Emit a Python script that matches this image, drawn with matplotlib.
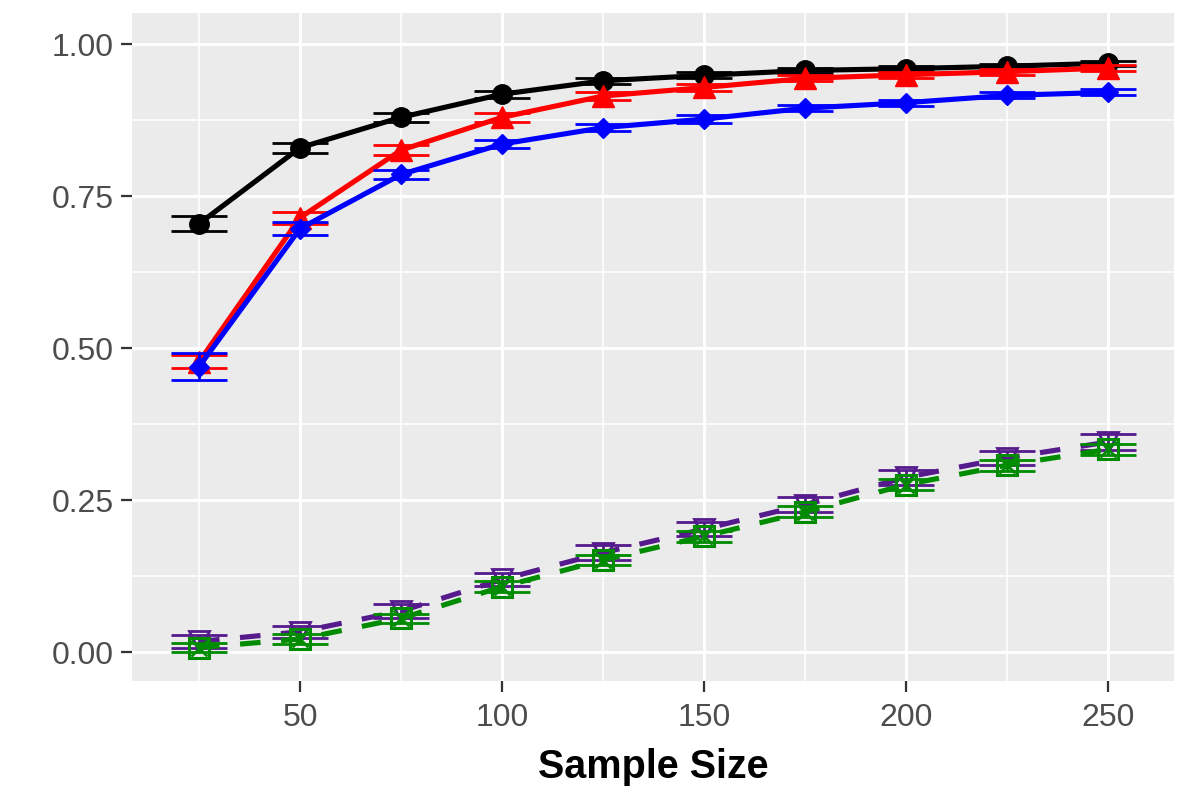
import matplotlib
matplotlib.use("Agg")
import matplotlib.pyplot as plt
from matplotlib.ticker import FixedLocator

plt.rcParams['font.family'] = ['Liberation Sans', 'DejaVu Sans']

# ---- data ----
sample_size = [25, 50, 75, 100, 125, 150, 175, 200, 225, 250]

black_vals = [0.705, 0.830, 0.880, 0.918, 0.940, 0.949, 0.957, 0.960, 0.964, 0.969]
black_err = [0.012, 0.008, 0.007, 0.006, 0.005, 0.005, 0.004, 0.004, 0.004, 0.004]

red_vals = [0.478, 0.715, 0.826, 0.880, 0.915, 0.929, 0.944, 0.950, 0.955, 0.961]
red_err = [0.011, 0.010, 0.008, 0.007, 0.006, 0.005, 0.005, 0.005, 0.005, 0.005]

blue_vals = [0.470, 0.697, 0.786, 0.836, 0.863, 0.877, 0.895, 0.904, 0.916, 0.921]
blue_err = [0.022, 0.011, 0.008, 0.007, 0.006, 0.006, 0.005, 0.005, 0.005, 0.005]

purple_vals = [0.018, 0.034, 0.068, 0.120, 0.164, 0.203, 0.243, 0.288, 0.320, 0.346]
purple_err = [0.010, 0.010, 0.011, 0.011, 0.012, 0.012, 0.012, 0.012, 0.012, 0.013]

green_vals = [0.008, 0.022, 0.056, 0.108, 0.152, 0.191, 0.231, 0.276, 0.308, 0.334]
green_err = [0.007, 0.008, 0.008, 0.009, 0.009, 0.009, 0.009, 0.009, 0.009, 0.009]

x_ticks = [50, 100, 150, 200, 250]
y_ticks = [0.00, 0.25, 0.50, 0.75, 1.00]
y_tick_labels = ["0.00", "0.25", "0.50", "0.75", "1.00"]

# ---- figure ----
fig = plt.figure(figsize=(11.96, 7.97), dpi=100)
ax = fig.add_axes([132 / 1196, 1 - 681 / 797, (1174 - 132) / 1196, (681 - 13) / 797])
ax.set_facecolor('#EBEBEB')
for s in ax.spines.values():
    s.set_visible(False)

ax.set_xlim(8.4, 266.3)
ax.set_ylim(-0.047, 1.0515)

ax.xaxis.set_major_locator(FixedLocator(x_ticks))
ax.xaxis.set_minor_locator(FixedLocator([25, 75, 125, 175, 225]))
ax.yaxis.set_major_locator(FixedLocator(y_ticks))
ax.yaxis.set_minor_locator(FixedLocator([0.125, 0.375, 0.625, 0.875]))
ax.set_yticklabels(y_tick_labels)

ax.grid(which='major', color='white', linewidth=2.2)
ax.grid(which='minor', color='white', linewidth=1.1)
ax.set_axisbelow(True)
ax.tick_params(which='major', length=8, width=1.6, color='#333333',
               labelsize=23, labelcolor='#4D4D4D', pad=5)
ax.tick_params(axis='x', which='major', pad=8)
ax.tick_params(which='minor', length=0)

ax.set_xlabel("Sample Size", fontsize=28.5, fontweight='bold', color='black', labelpad=11)

LW = 3.7
CAP = 20
EW = 2.0

series = [
    (black_vals, black_err, 'black', 'o', dict(markersize=14), '-'),
    (red_vals, red_err, 'red', '^', dict(markersize=16), '-'),
    (blue_vals, blue_err, 'blue', 'D', dict(markersize=10.5), '-'),
    (purple_vals, purple_err, '#551A8B', 'v', dict(markersize=14, markerfacecolor='none', markeredgewidth=2.0), '--'),
    (green_vals, green_err, '#008B00', 's', dict(markersize=15, markerfacecolor='none', markeredgewidth=2.2), '--'),
]

z = 3
for vals, err, col, mk, mkw, ls in series:
    ax.errorbar(sample_size, vals, yerr=err, fmt='none', ecolor=col,
                elinewidth=EW, capsize=CAP, capthick=EW, zorder=z)
    line, = ax.plot(sample_size, vals, color=col, linewidth=LW, linestyle=ls, zorder=z + 0.1)
    if ls == '--':
        line.set_dashes((4, 4))
        line.set_dash_capstyle('butt')
    ax.plot(sample_size, vals, linestyle='none', marker=mk, color=col,
            markeredgecolor=col, zorder=z + 0.2, **mkw)
    if mk == 's':
        ax.plot(sample_size, vals, linestyle='none', marker='x', color=col,
                markersize=11, markeredgewidth=2.0, zorder=z + 0.3)
    z += 1

fig.savefig("out.png", dpi=100)
